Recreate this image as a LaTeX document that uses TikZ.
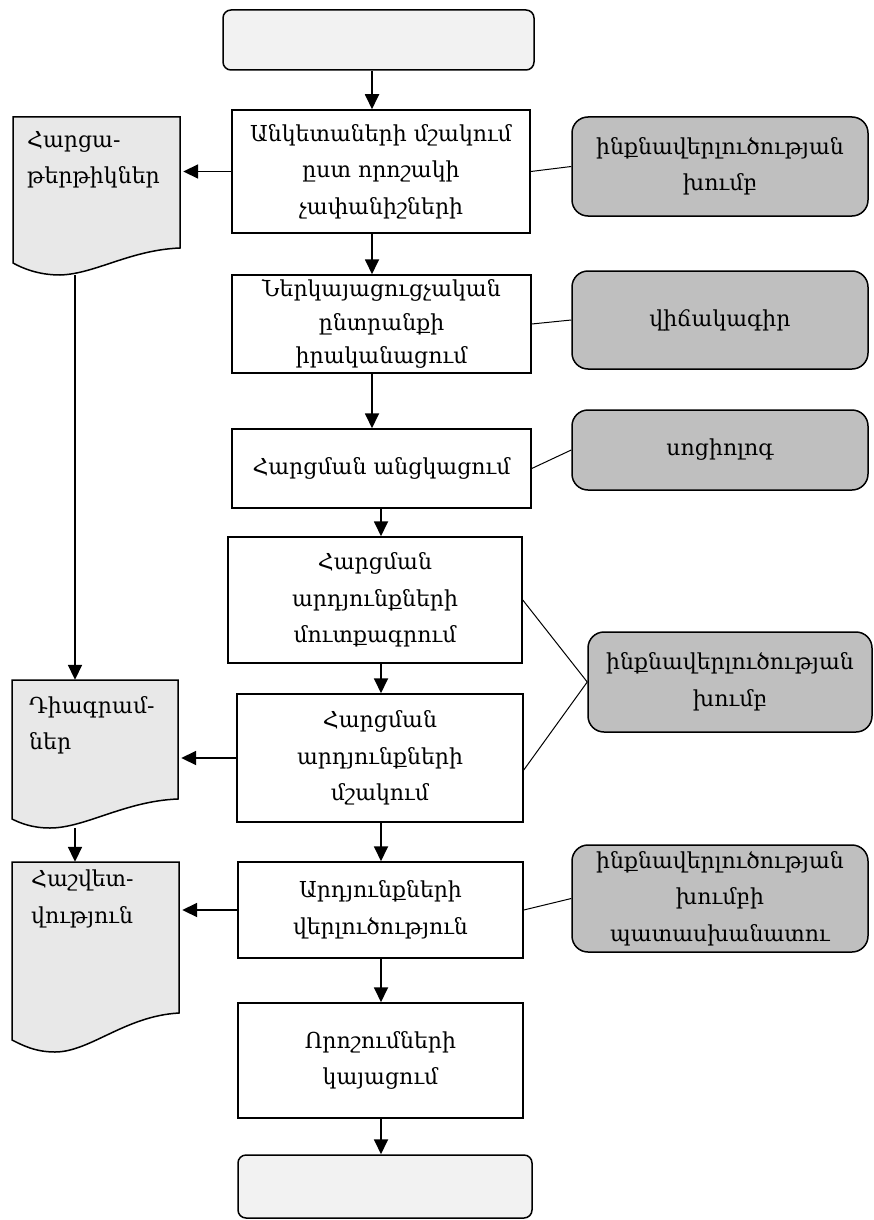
\documentclass[tikz,border=0pt]{standalone}
\usepackage{fontspec}
\setmainfont{DejaVu Serif}
\usetikzlibrary{arrows.meta,calc}
\newcommand\myfs{\fontsize{22}{36.5}\selectfont}
\newcommand\tightfs{\fontsize{22}{33.5}\selectfont}
\definecolor{lightfill}{HTML}{F2F2F2}
\definecolor{docfill}{HTML}{E8E8E8}
\definecolor{rolefill}{HTML}{BFBFBF}
\begin{document}
\begin{tikzpicture}[x=1pt,y=-1pt,
  stepbox/.style={draw,line width=1.5pt,fill=white,align=center,inner sep=0pt,font=\myfs},
  endbox/.style={draw,line width=1.5pt,fill=lightfill,rounded corners=8pt},
  rolebox/.style={draw,line width=1.5pt,fill=rolefill,rounded corners=16pt,align=center,inner sep=0pt,font=\myfs},
  docarea/.style={draw=none,inner sep=0pt},
  doctext/.style={anchor=north west,align=left,inner sep=0pt,font=\myfs},
  docline/.style={draw,line width=1.5pt,fill=docfill},
  arr/.style={line width=1.8pt,-{Triangle[length=15pt,width=14pt]}},
  lnk/.style={line width=1pt}]
\useasboundingbox (0,0) rectangle (874,1220);

% documents (wavy bottom)
\path[docline] (13,117) -- (180,117) -- (180,248) .. controls (130,250) and (95,274) .. (60,275) .. controls (38,275) and (22,268) .. (13,263) -- cycle;
\path[docline] (12,680) -- (178,680) -- (178,799) .. controls (125,801) and (85,828) .. (50,828) .. controls (32,828) and (20,823) .. (12,819) -- cycle;
\path[docline] (12,862) -- (179,862) -- (179,1013) .. controls (125,1016) and (90,1052) .. (55,1052) .. controls (35,1052) and (22,1045) .. (12,1040) -- cycle;
\node[docarea,minimum width=167pt,minimum height=158pt] (d1) at (96.5,196) {};
\node[docarea,minimum width=166pt,minimum height=148pt] (d2) at (95,754) {};
\node[docarea,minimum width=167pt,minimum height=190pt] (d3) at (95.5,957) {};
\node[doctext] (d1t) at (27,131) {Հարցա-\\թերթիկներ};
\node[doctext] (d2t) at (29,696) {Դիագրամ-\\ներ};
\node[doctext] (d3t) at (31,870) {Հաշվետ-\\վություն};

% main column
\node[endbox,minimum width=311pt,minimum height=60pt] (top) at (378.5,40) {};
\node[stepbox,minimum width=298pt,minimum height=123pt] (b1) at (381,171.5) {Անկետաների մշակում\\ըստ որոշակի\\չափանիշների};
\node[stepbox,font=\tightfs,minimum width=299pt,minimum height=98pt] (b2) at (381.5,324) {Ներկայացուցչական\\ընտրանքի\\իրականացում};
\node[stepbox,minimum width=299pt,minimum height=79pt] (b3) at (381.5,468.5) {Հարցման անցկացում};
\node[stepbox,minimum width=294pt,minimum height=126pt] (b4) at (375,600) {Հարցման\\արդյունքների\\մուտքագրում};
\node[stepbox,minimum width=286pt,minimum height=128pt] (b5) at (380,758) {Հարցման\\արդյունքների\\մշակում};
\node[stepbox,minimum width=285pt,minimum height=96pt] (b6) at (380.5,910) {Արդյունքների\\վերլուծություն};
\node[stepbox,minimum width=285pt,minimum height=115pt] (b7) at (380.5,1060.5) {Որոշումների\\կայացում};
\node[endbox,minimum width=294pt,minimum height=63pt] (bot) at (385,1186.5) {};

% role boxes
\node[rolebox,minimum width=296pt,minimum height=99pt] (r1) at (720,166.5) {ինքնավերլուծության\\խումբ};
\node[rolebox,minimum width=296pt,minimum height=98pt] (r2) at (720,320) {վիճակագիր};
\node[rolebox,minimum width=296pt,minimum height=80pt] (r3) at (720,450) {սոցիոլոգ};
\node[rolebox,minimum width=284pt,minimum height=100pt] (r4) at (730,682) {ինքնավերլուծության\\խումբ};
\node[rolebox,minimum width=296pt,minimum height=107pt] (r5) at (720,898.5) {ինքնավերլուծության\\խումբի\\պատասխանատու};

\coordinate (xa) at (372,0);
\coordinate (xb) at (381,0);
\coordinate (xd) at (75,0);

% vertical arrows
\draw[arr] (top.south -| xa) -- (b1.north -| xa);
\draw[arr] (b1.south -| xa) -- (b2.north -| xa);
\draw[arr] (b2.south -| xa) -- (b3.north -| xa);
\draw[arr] (b3.south -| xb) -- (b4.north -| xb);
\draw[arr] (b4.south -| xb) -- (b5.north -| xb);
\draw[arr] (b5.south -| xb) -- (b6.north -| xb);
\draw[arr] (b6.south -| xb) -- (b7.north -| xb);
\draw[arr] (b7.south -| xb) -- (bot.north -| xb);
\draw[arr] (d1.south -| xd) -- (d2.north -| xd);
\draw[arr] (d2.south -| xd) -- (d3.north -| xd);

% arrows to documents
\draw[arr] (b1.west) -- ([xshift=3pt]b1.west -| d1.east);
\draw[arr] (b5.west) -- ([xshift=3pt]b5.west -| d2.east);
\draw[arr] (b6.west) -- ([xshift=3pt]b6.west -| d3.east);

% links to roles
\draw[lnk] (b1.east) -- (r1.west);
\draw[lnk] (b2.east) -- (r2.west);
\draw[lnk] (b3.east) -- (r3.west);
\draw[lnk] (b4.east) -- (r4.west);
\draw[lnk] ([yshift=-12pt]b5.east) -- (r4.west);
\draw[lnk] (b6.east) -- (r5.west);
\end{tikzpicture}
\end{document}
